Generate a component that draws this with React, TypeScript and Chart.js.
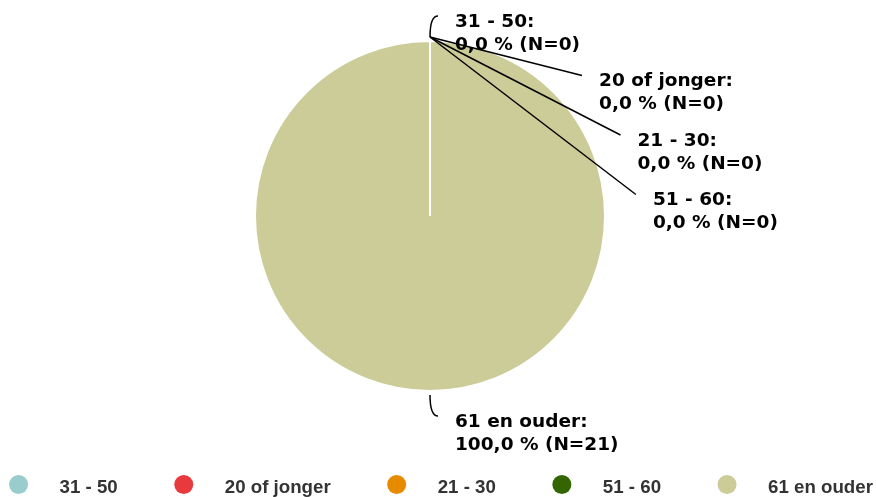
import React, { useEffect, useRef } from 'react';
import { Chart, registerables } from 'chart.js';

Chart.register(...registerables);

const categories: string[] = ['31 - 50', '20 of jonger', '21 - 30', '51 - 60', '61 en ouder'];
const counts: number[] = [0, 0, 0, 0, 21];
const colors: string[] = ['#99CCCC', '#E8393E', '#E68A00', '#336600', '#CCCC99'];

const W = 876;
const H = 497;
const LABEL_FONT = 'bold 18.5px "DejaVu Sans", Verdana, sans-serif';
const LEGEND_FONT = 'bold 18.7px "Liberation Sans", Arial, sans-serif';
const LINE_H = 23;
const SLOT = 2 * LINE_H + 13.5;

const fmtPct = (v: number, total: number) =>
  (total ? (v / total) * 100 : 0).toFixed(1).replace('.', ',');

const pieLabels = {
  id: 'pieLabels',
  afterDatasetsDraw(chart: any) {
    const meta = chart.getDatasetMeta(0);
    const ctx: CanvasRenderingContext2D = chart.ctx;
    const data: number[] = chart.data.datasets[0].data;
    const labels: string[] = chart.data.labels;
    const total = data.reduce((a, b) => a + b, 0);
    type Item = { i: number; mid: number; cx: number; cy: number; r: number; ny: number; nx: number };
    const items: Item[] = meta.data.map((arc: any, i: number) => {
      const mid = (arc.startAngle + arc.endAngle) / 2;
      const r = arc.outerRadius;
      const rn = r + 25;
      return {
        i,
        mid,
        cx: arc.x,
        cy: arc.y,
        r,
        nx: arc.x + rn * Math.cos(mid),
        ny: arc.y + rn * Math.sin(mid),
      };
    });
    const sides = [items.filter((it) => Math.cos(it.mid) >= -1e-9), items.filter((it) => Math.cos(it.mid) < -1e-9)];
    ctx.save();
    sides.forEach((group, sideIdx) => {
      const dir = sideIdx === 0 ? 1 : -1;
      const sorted = [...group].sort((a, b) => a.ny - b.ny || a.i - b.i);
      let prev = -Infinity;
      sorted.forEach((it) => {
        const y = Math.max(it.ny, prev + SLOT);
        prev = y;
        const displaced = y - it.ny > 0.5;
        const sr = it.r + 4;
        const sx = it.cx + sr * Math.cos(it.mid);
        const sy = it.cy + sr * Math.sin(it.mid);
        let ex: number;
        ctx.strokeStyle = '#000000';
        ctx.lineWidth = 1.5;
        ctx.beginPath();
        ctx.moveTo(sx, sy);
        if (displaced) {
          const R = it.r + 32;
          const dy = y - it.cy;
          ex = it.cx + dir * Math.sqrt(Math.max(R * R - dy * dy, 0));
          ctx.lineTo(ex, y);
        } else {
          ex = it.nx + dir * 8;
          ctx.quadraticCurveTo(sx, y, ex, y);
        }
        ctx.stroke();
        ctx.fillStyle = '#000000';
        ctx.font = LABEL_FONT;
        ctx.textAlign = dir > 0 ? 'left' : 'right';
        ctx.textBaseline = 'alphabetic';
        const tx = ex + dir * 17;
        const v = data[it.i];
        ctx.fillText(labels[it.i] + ':', tx, y + 10.5);
        ctx.fillText(`${fmtPct(v, total)} % (N=${v})`, tx, y + 10.5 + LINE_H);
      });
    });
    ctx.restore();
  },
};

const bottomLegend = {
  id: 'bottomLegend',
  afterDraw(chart: any) {
    const ctx: CanvasRenderingContext2D = chart.ctx;
    const labels: string[] = chart.data.labels;
    const bg: string[] = chart.data.datasets[0].backgroundColor;
    ctx.save();
    ctx.font = LEGEND_FONT;
    const widths = labels.map((l) => ctx.measureText(l).width);
    const rad = 9.5;
    const toText = 41;
    const toNext = 66;
    const extent = rad + widths.reduce((a, b) => a + b, 0) + toText * labels.length + toNext * (labels.length - 1);
    let cxp = (chart.width - extent) / 2 + rad + 3;
    const cyp = 484.5;
    labels.forEach((l, i) => {
      ctx.fillStyle = bg[i];
      ctx.beginPath();
      ctx.arc(cxp, cyp, rad, 0, Math.PI * 2);
      ctx.fill();
      ctx.fillStyle = '#333333';
      ctx.textAlign = 'left';
      ctx.textBaseline = 'alphabetic';
      ctx.fillText(l, cxp + toText, 493);
      cxp += toText + widths[i] + toNext;
    });
    ctx.restore();
  },
};

export default function App() {
  const ref = useRef<HTMLCanvasElement | null>(null);
  useEffect(() => {
    if (!ref.current) return;
    const chart = new Chart(ref.current, {
      type: 'pie',
      data: {
        labels: categories,
        datasets: [
          {
            data: counts,
            backgroundColor: colors,
            borderColor: '#ffffff',
            borderWidth: 2,
          },
        ],
      },
      options: {
        responsive: false,
        animation: false,
        layout: { padding: { top: 40, bottom: 105, left: 0, right: 16 } },
        plugins: {
          legend: { display: false },
          tooltip: { enabled: false },
        },
      },
      plugins: [pieLabels, bottomLegend],
    } as any);
    return () => chart.destroy();
  }, []);
  return (
    <div style={{ position: 'fixed', left: 0, top: 0, width: W, height: H, background: '#fff' }}>
      <canvas ref={ref} width={W} height={H} style={{ display: 'block', width: W, height: H }} />
    </div>
  );
}
